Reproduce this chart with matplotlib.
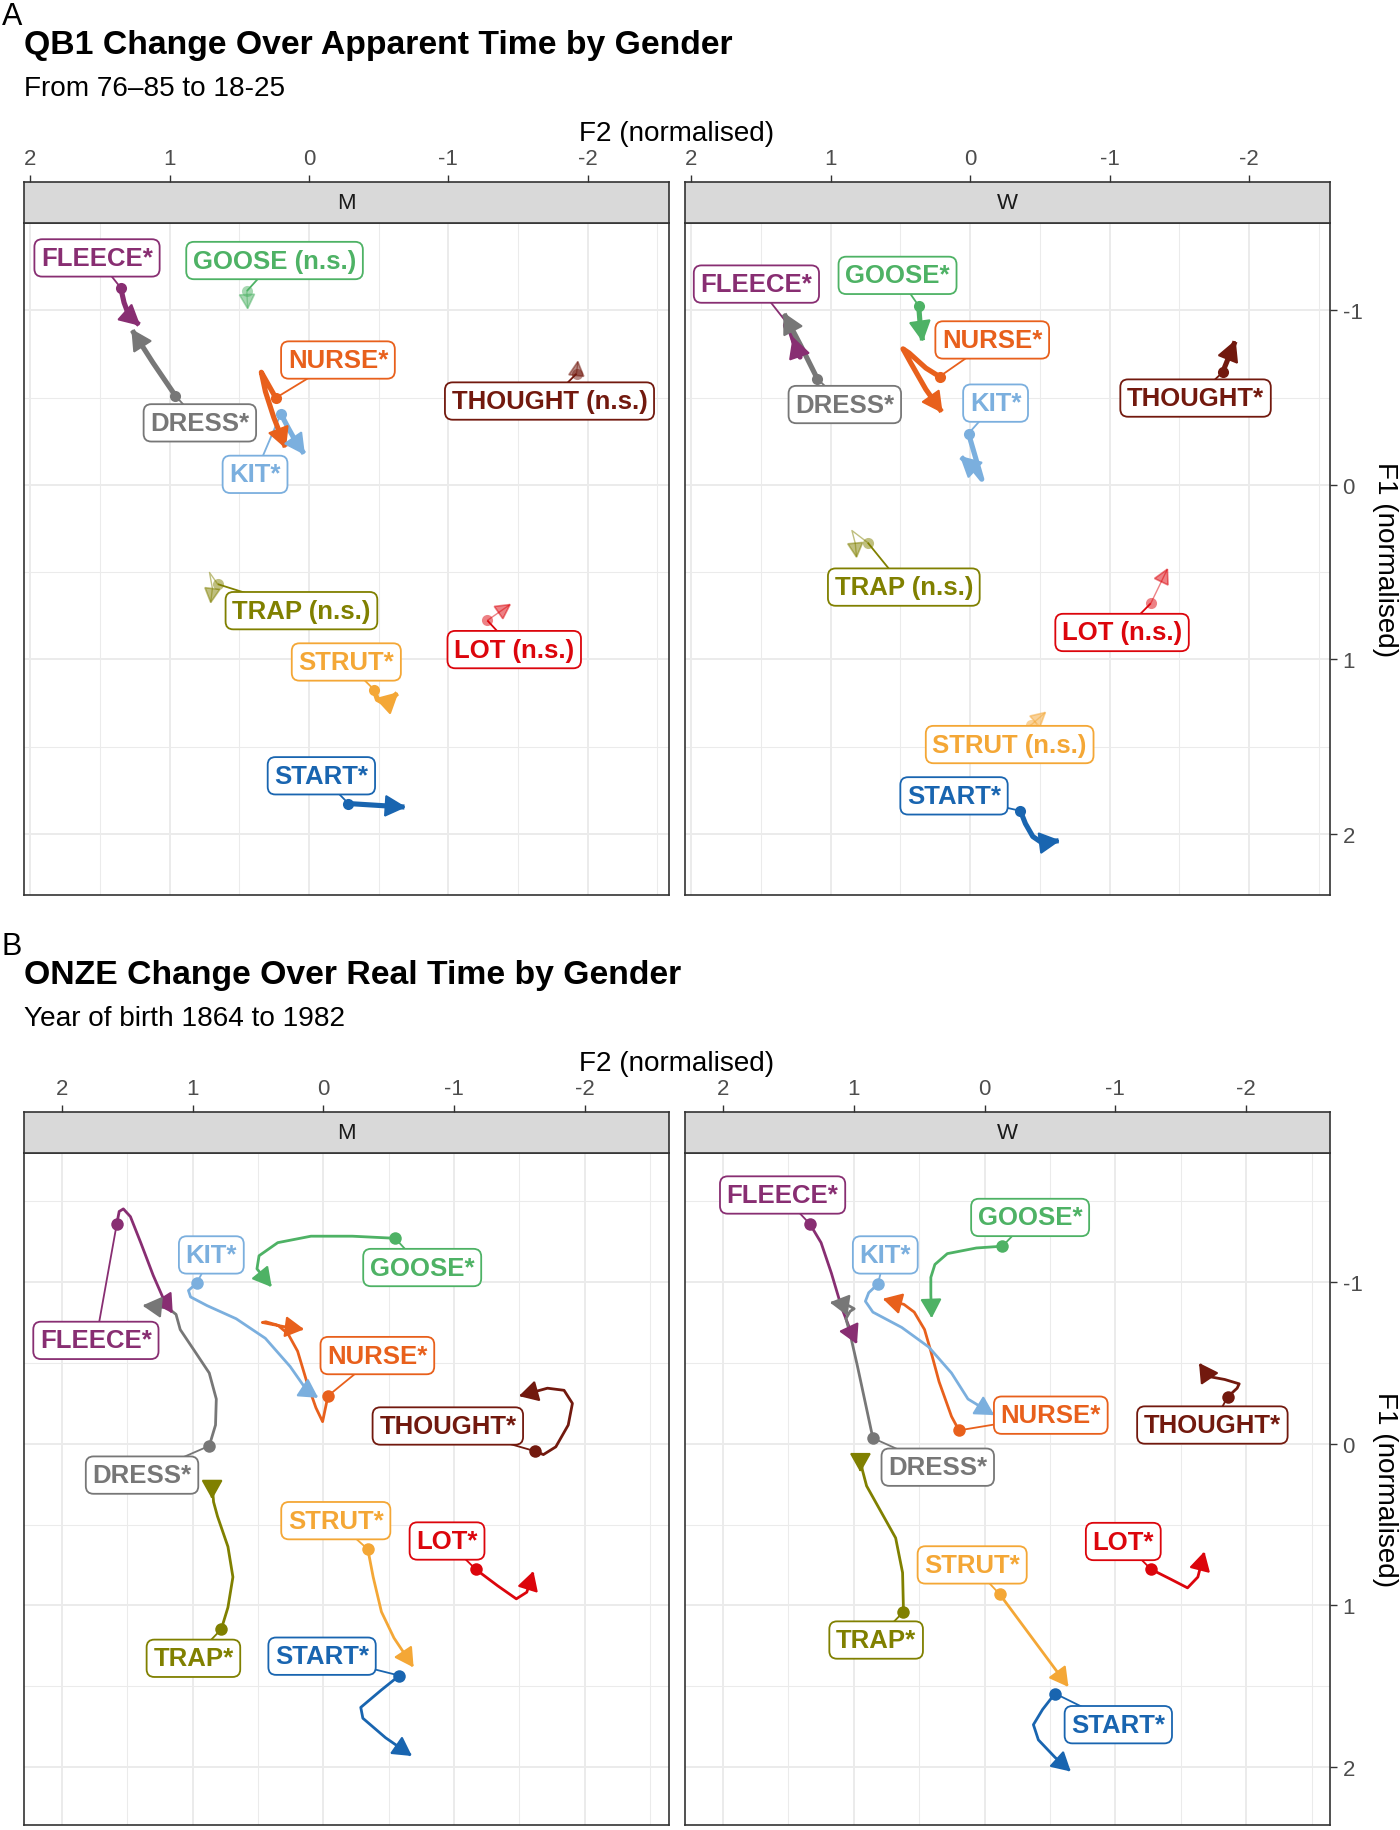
import matplotlib
matplotlib.use("Agg")
import numpy as np
import matplotlib.pyplot as plt
from matplotlib.patches import Polygon

plt.rcParams['font.family'] = ['Liberation Sans', 'DejaVu Sans']
plt.rcParams['axes.unicode_minus'] = False

# ---------------- data ----------------
VOWELS = ["FLEECE", "GOOSE", "NURSE", "KIT", "DRESS", "THOUGHT", "TRAP", "LOT", "STRUT", "START"]
COLOURS = {"FLEECE": "#882E72", "GOOSE": "#4EB265", "NURSE": "#E8601C", "KIT": "#7BAFDE",
           "DRESS": "#777777", "THOUGHT": "#72190E", "TRAP": "#808000", "LOT": "#DC050C",
           "STRUT": "#F4A736", "START": "#1965B0"}
TICKS_F2 = [2, 1, 0, -1, -2]
TICK_LABELS_F2 = ["2", "1", "0", "-1", "-2"]
TICKS_F1 = [-1, 0, 1, 2]
TICK_LABELS_F1 = ["-1", "0", "1", "2"]

# Panel A: QB1, men
QB1_M_F2 = {
    "FLEECE": [1.351, 1.327, 1.292, 1.219],
    "GOOSE": [0.446, 0.44],
    "NURSE": [0.238, 0.298, 0.342, 0.3125, 0.253, 0.170],
    "KIT": [0.202, 0.149, 0.089, 0.036],
    "DRESS": [0.958, 1.12, 1.268],
    "THOUGHT": [-1.92, -1.929],
    "TRAP": [0.655, 0.714, 0.693, 0.705],
    "LOT": [-1.28, -1.443],
    "STRUT": [-0.467, -0.491, -0.551, -0.634],
    "START": [-0.283, -0.685],
}
QB1_M_F1 = {
    "FLEECE": [-1.129, -1.044, -0.969, -0.917],
    "GOOSE": [-1.11, -1.01],
    "NURSE": [-0.498, -0.583, -0.645, -0.534, -0.387, -0.216],
    "KIT": [-0.407, -0.326, -0.240, -0.179],
    "DRESS": [-0.51, -0.70, -0.885],
    "THOUGHT": [-0.637, -0.706],
    "TRAP": [0.569, 0.502, 0.593, 0.674],
    "LOT": [0.777, 0.686],
    "STRUT": [1.174, 1.230, 1.255, 1.194],
    "START": [1.826, 1.846],
}
QB1_M_SIG = {"FLEECE": True, "GOOSE": False, "NURSE": True, "KIT": True, "DRESS": True,
             "THOUGHT": False, "TRAP": False, "LOT": False, "STRUT": True, "START": True}

# Panel A: QB1, women
QB1_W_F2 = {
    "FLEECE": [1.304, 1.265, 1.220, 1.235, 1.269],
    "GOOSE": [0.369, 0.36, 0.342],
    "NURSE": [0.220, 0.318, 0.4375, 0.482, 0.423, 0.318, 0.205],
    "KIT": [0.012, -0.039, -0.083, -0.009, 0.065],
    "DRESS": [1.095, 1.21, 1.334],
    "THOUGHT": [-1.810, -1.899],
    "TRAP": [0.735, 0.848, 0.824, 0.815],
    "LOT": [-1.295, -1.414],
    "STRUT": [-0.435, -0.539],
    "START": [-0.360, -0.396, -0.449, -0.515, -0.634],
}
QB1_W_F1 = {
    "FLEECE": [-0.917, -0.82, -0.732, -0.76, -0.839],
    "GOOSE": [-1.025, -0.93, -0.828],
    "NURSE": [-0.620, -0.669, -0.755, -0.779, -0.694, -0.547, -0.419],
    "KIT": [-0.294, -0.154, -0.032, -0.105, -0.159],
    "DRESS": [-0.606, -0.79, -0.979],
    "THOUGHT": [-0.645, -0.821],
    "TRAP": [0.331, 0.262, 0.336, 0.414],
    "LOT": [0.679, 0.483],
    "STRUT": [1.377, 1.304],
    "START": [1.868, 1.941, 2.015, 2.051, 2.039],
}
QB1_W_SIG = {"FLEECE": True, "GOOSE": True, "NURSE": True, "KIT": True, "DRESS": True,
             "THOUGHT": True, "TRAP": False, "LOT": False, "STRUT": False, "START": True}

# Panel B: ONZE, men
ONZE_M_F2 = {
    "FLEECE": [1.581, 1.562, 1.530, 1.476, 1.397, 1.302, 1.222, 1.159],
    "GOOSE": [-0.549, -0.222, 0.095, 0.349, 0.492, 0.508, 0.403],
    "NURSE": [-0.035, 0.006, 0.057, 0.127, 0.197, 0.270, 0.349, 0.44, 0.467, 0.40, 0.30, 0.16],
    "KIT": [0.968, 1.032, 1.016, 0.889, 0.667, 0.444, 0.254, 0.127, 0.05],
    "DRESS": [0.873, 0.825, 0.819, 0.873, 0.984, 1.095, 1.127, 1.190, 1.371],
    "THOUGHT": [-1.619, -1.683, -1.778, -1.873, -1.905, -1.841, -1.714, -1.508],
    "TRAP": [0.781, 0.730, 0.692, 0.730, 0.810, 0.840, 0.851, 0.851],
    "LOT": [-1.165, -1.333, -1.476, -1.556, -1.603],
    "STRUT": [-0.340, -0.381, -0.444, -0.540, -0.683],
    "START": [-0.581, -0.444, -0.286, -0.302, -0.476, -0.667],
}
ONZE_M_F1 = {
    "FLEECE": [-1.358, -1.438, -1.454, -1.406, -1.245, -1.043, -0.895, -0.815],
    "GOOSE": [-1.272, -1.285, -1.285, -1.245, -1.164, -1.083, -0.978],
    "NURSE": [-0.296, -0.137, -0.223, -0.384, -0.573, -0.680, -0.734, -0.755, -0.751, -0.74, -0.725, -0.71],
    "KIT": [-0.995, -0.949, -0.909, -0.855, -0.774, -0.653, -0.478, -0.331, -0.290],
    "DRESS": [0.013, -0.116, -0.277, -0.438, -0.573, -0.707, -0.801, -0.841, -0.855],
    "THOUGHT": [0.046, 0.067, 0.019, -0.116, -0.25, -0.331, -0.344, -0.298],
    "TRAP": [1.148, 1.013, 0.825, 0.637, 0.449, 0.360, 0.250, 0.333],
    "LOT": [0.777, 0.879, 0.960, 0.919, 0.798],
    "STRUT": [0.653, 0.825, 1.040, 1.202, 1.376],
    "START": [1.435, 1.524, 1.632, 1.699, 1.820, 1.927],
}
ONZE_M_SIG = {v: True for v in VOWELS}

# Panel B: ONZE, women
ONZE_W_F2 = {
    "FLEECE": [1.335, 1.250, 1.171, 1.092, 1.028, 0.981],
    "GOOSE": [-0.136, 0.063, 0.285, 0.380, 0.411, 0.411, 0.405],
    "NURSE": [0.196, 0.253, 0.348, 0.411, 0.459, 0.538, 0.617, 0.766],
    "KIT": [0.816, 0.886, 0.911, 0.854, 0.633, 0.427, 0.253, 0.127, -0.063],
    "DRESS": [0.854, 0.918, 0.975, 1.028, 1.060, 1.028, 0.997, 1.05, 1.171],
    "THOUGHT": [-1.858, -1.930, -1.946, -1.835, -1.709, -1.646],
    "TRAP": [0.620, 0.627, 0.680, 0.791, 0.902, 0.935, 0.949, 0.949],
    "LOT": [-1.272, -1.424, -1.551, -1.630, -1.677],
    "STRUT": [-0.117, -0.633],
    "START": [-0.538, -0.443, -0.373, -0.411, -0.538, -0.649],
}
ONZE_W_F1 = {
    "FLEECE": [-1.360, -1.245, -1.056, -0.841, -0.707, -0.626],
    "GOOSE": [-1.223, -1.212, -1.177, -1.110, -1.030, -0.922, -0.788],
    "NURSE": [-0.083, -0.169, -0.384, -0.573, -0.707, -0.815, -0.863, -0.895],
    "KIT": [-0.989, -0.935, -0.882, -0.815, -0.720, -0.599, -0.438, -0.277, -0.183],
    "DRESS": [-0.035, -0.277, -0.492, -0.680, -0.774, -0.820, -0.836, -0.860, -0.874],
    "THOUGHT": [-0.290, -0.344, -0.371, -0.398, -0.417, -0.492],
    "TRAP": [1.040, 0.798, 0.583, 0.422, 0.261, 0.160, 0.078, 0.167],
    "LOT": [0.777, 0.839, 0.892, 0.825, 0.677],
    "STRUT": [0.933, 1.497],
    "START": [1.546, 1.645, 1.739, 1.833, 1.941, 2.022],
}
ONZE_W_SIG = {v: True for v in VOWELS}

# label placements (layout, in data units)
QB1_M_LAB = {"FLEECE": (1.521, -1.30), "GOOSE": (0.247, -1.285), "NURSE": (-0.208, -0.715),
             "THOUGHT": (-1.726, -0.48), "DRESS": (0.783, -0.355), "KIT": (0.387, -0.06),
             "TRAP": (0.054, 0.721), "STRUT": (-0.268, 1.015), "LOT": (-1.473, 0.944),
             "START": (-0.089, 1.667)}
QB1_W_LAB = {"FLEECE": (1.533, -1.15), "GOOSE": (0.521, -1.20), "NURSE": (-0.158, -0.83),
             "DRESS": (0.899, -0.46), "KIT": (-0.182, -0.468), "THOUGHT": (-1.616, -0.497),
             "TRAP": (0.476, 0.586), "LOT": (-1.089, 0.846), "STRUT": (-0.283, 1.488),
             "START": (0.116, 1.782)}
ONZE_M_LAB = {"FLEECE": (1.740, -0.640), "KIT": (0.857, -1.169), "GOOSE": (-0.756, -1.091),
              "NURSE": (-0.413, -0.546), "THOUGHT": (-0.952, -0.110), "DRESS": (1.387, 0.194),
              "STRUT": (-0.095, 0.476), "LOT": (-0.946, 0.602), "TRAP": (0.994, 1.328),
              "START": (0.010, 1.315)}
ONZE_W_LAB = {"FLEECE": (1.544, -1.540), "KIT": (0.759, -1.169), "GOOSE": (-0.348, -1.401),
              "NURSE": (-0.506, -0.177), "THOUGHT": (-1.741, -0.116), "DRESS": (0.358, 0.145),
              "LOT": (-1.060, 0.605), "STRUT": (0.095, 0.750), "TRAP": (0.829, 1.215),
              "START": (-1.022, 1.739)}

# ---------------- layout ----------------
W, H = 1400, 1831
fig = plt.figure(figsize=(W / 100, H / 100), dpi=100)
fig.patch.set_facecolor("white")


def frac(x0, y0, x1, y1):
    return [x0 / W, 1 - y1 / H, (x1 - x0) / W, (y1 - y0) / H]


BORDER = "#333333"
GRID = "#ebebeb"


def arrow_head(ax, p_from, p_to, length, half_w, color, alpha, z):
    """Closed triangular arrowhead with its tip at p_to, oriented along p_from->p_to."""
    a = ax.transData.transform(p_from)
    b = ax.transData.transform(p_to)
    d = b - a
    u = d / np.hypot(d[0], d[1])
    n = np.array([-u[1], u[0]])
    base = b - length * u
    pts = np.array([b, base + half_w * n, base - half_w * n])
    pts = ax.transData.inverted().transform(pts)
    ax.add_patch(Polygon(pts, closed=True, fc=color, ec=color, lw=1.2, alpha=alpha,
                         zorder=z, joinstyle="miter"))


def draw_panel(box, strip_box, xlim, ylim, f2, f1, sig, lab, strip_text, right_axis, thick):
    ax = fig.add_axes(frac(*box))
    ax.set_xlim(*xlim)
    ax.set_ylim(*ylim)
    ax.set_autoscale_on(False)
    ax.set_xticks(TICKS_F2)
    ax.set_xticks([1.5, 0.5, -0.5, -1.5, -2.5], minor=True)
    ax.set_yticks(TICKS_F1)
    ax.set_yticks([-1.5, -0.5, 0.5, 1.5], minor=True)
    ax.grid(which="major", color=GRID, lw=1.4, zorder=0)
    ax.grid(which="minor", color=GRID, lw=0.75, zorder=0)
    ax.set_axisbelow(True)
    ax.tick_params(axis="x", which="both", length=0, labelbottom=False, labeltop=False)
    if right_axis:
        ax.yaxis.tick_right()
        ax.set_yticklabels(TICK_LABELS_F1)
        ax.tick_params(axis="y", which="major", length=5, width=1.0, color=BORDER,
                       labelsize=16, labelcolor="#4d4d4d", pad=4)
        ax.tick_params(axis="y", which="minor", length=0)
    else:
        ax.tick_params(axis="y", which="both", length=0, labelleft=False, labelright=False)
    for s in ax.spines.values():
        s.set_color(BORDER)
        s.set_linewidth(1.2)

    for v in VOWELS:
        c = COLOURS[v]
        xs, ys = f2[v], f1[v]
        s = sig[v]
        if thick:
            lw = 3.7 if s else 1.0
            hl, hw = (19, 10) if s else (14, 7.5)
            ms_ = 8
        else:
            lw = 2.0
            hl, hw = 17, 9.5
            ms_ = 9
        alpha = 1.0 if s else 0.5
        lx, ly = lab[v]
        # label segment
        ax.plot([lx, xs[0]], [ly, ys[0]], color=c, lw=1.3, zorder=3, solid_capstyle="butt")
        # trajectory
        ax.plot(xs, ys, color=c, lw=lw, alpha=alpha, zorder=4,
                solid_joinstyle="round", solid_capstyle="butt")
        ax.plot(xs[0], ys[0], "o", color=c, ms=ms_, alpha=alpha, mec="none", zorder=5)
        arrow_head(ax, (xs[-2], ys[-2]), (xs[-1], ys[-1]), hl, hw, c, alpha, 5)
        txt = v + ("*" if s else " (n.s.)")
        ax.text(lx, ly, txt, ha="center", va="center", fontsize=18.5, fontweight="bold",
                color=c, zorder=8,
                bbox=dict(boxstyle="round,pad=0.26,rounding_size=0.3", fc="white", ec=c, lw=1.3))

    st = fig.add_axes(frac(*strip_box))
    st.set_facecolor("#d9d9d9")
    st.set_xlim(*xlim)
    st.set_ylim(0, 1)
    st.set_yticks([])
    st.xaxis.set_ticks_position("top")
    st.set_xticks(TICKS_F2)
    st.set_xticklabels(TICK_LABELS_F2)
    st.tick_params(axis="x", length=5, width=1.0, color=BORDER, labelsize=16,
                   labelcolor="#4d4d4d", pad=4)
    for s in st.spines.values():
        s.set_color(BORDER)
        s.set_linewidth(1.2)
    st.text(0.5, 0.5, strip_text, transform=st.transAxes, ha="center", va="center",
            fontsize=16, color="#1a1a1a")
    return ax


XL_A = (2.045, -2.58)
YL_A = (2.35, -1.456)
XL_B = (2.29, -2.64)
YL_B = (2.36, -1.80)

# Panel A
draw_panel((24, 224, 668.5, 896), (24, 183, 668.5, 224), XL_A, YL_A,
           QB1_M_F2, QB1_M_F1, QB1_M_SIG, QB1_M_LAB, "M", False, True)
draw_panel((685, 224, 1330, 896), (685, 183, 1330, 224), XL_A, YL_A,
           QB1_W_F2, QB1_W_F1, QB1_W_SIG, QB1_W_LAB, "W", True, True)
# Panel B
draw_panel((24, 1154, 668.5, 1826), (24, 1113, 668.5, 1154), XL_B, YL_B,
           ONZE_M_F2, ONZE_M_F1, ONZE_M_SIG, ONZE_M_LAB, "M", False, False)
draw_panel((685, 1154, 1330, 1826), (685, 1113, 1330, 1154), XL_B, YL_B,
           ONZE_W_F2, ONZE_W_F1, ONZE_W_SIG, ONZE_W_LAB, "W", True, False)


def ftext(x, y, s, **kw):
    fig.text(x / W, 1 - y / H, s, **kw)


for (tag, title, sub, y0, ymid) in [("A", "QB1 Change Over Apparent Time by Gender",
                                     "From 76\u201385 to 18-25", 0, 560),
                                    ("B", "ONZE Change Over Real Time by Gender",
                                     "Year of birth 1864 to 1982", 930, 1490)]:
    ftext(2, y0 + 25, tag, fontsize=22, ha="left", va="baseline", color="black")
    ftext(24, y0 + 54, title, fontsize=24.3, fontweight="bold", ha="left", va="baseline", color="black")
    ftext(24, y0 + 96, sub, fontsize=20.2, ha="left", va="baseline", color="black")
    ftext(677, y0 + 141, "F2 (normalised)", fontsize=20.1, ha="center", va="baseline", color="black")
    ftext(1385, ymid, "F1 (normalised)", fontsize=20.1, ha="center", va="center",
          rotation=270, color="black")

fig.savefig("out.png", dpi=100)
